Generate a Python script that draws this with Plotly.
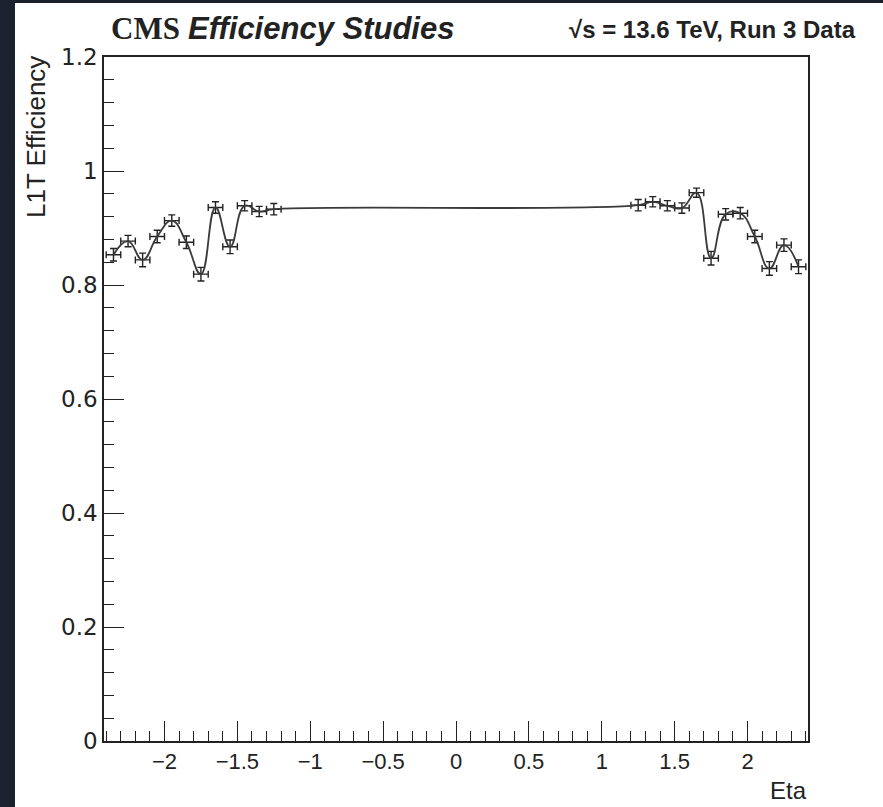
import plotly.graph_objects as go

eta = [-2.35, -2.25, -2.15, -2.05, -1.95, -1.85, -1.75, -1.65, -1.55, -1.45, -1.35, -1.25,
       1.25, 1.35, 1.45, 1.55, 1.65, 1.75, 1.85, 1.95, 2.05, 2.15, 2.25, 2.35]
eff = [0.853, 0.877, 0.844, 0.885, 0.913, 0.875, 0.819, 0.936, 0.867, 0.939, 0.929, 0.933,
       0.940, 0.946, 0.939, 0.935, 0.962, 0.847, 0.924, 0.926, 0.885, 0.829, 0.870, 0.832]
eff_err = [0.011, 0.010, 0.012, 0.011, 0.010, 0.011, 0.012, 0.010, 0.012, 0.009, 0.009, 0.010,
           0.010, 0.009, 0.009, 0.009, 0.008, 0.012, 0.010, 0.010, 0.011, 0.012, 0.011, 0.012]
eta_halfwidth = [0.05] * len(eta)

fig = go.Figure()
fig.add_trace(go.Scatter(
    x=eta, y=eff, mode="lines",
    line=dict(color="#3a3a3a", width=1.8, shape="spline", smoothing=1.3),
    error_y=dict(type="data", array=eff_err, color="#222222", thickness=1.4, width=3.5),
    error_x=dict(type="data", array=eta_halfwidth, color="#222222", thickness=1.4, width=3.5),
    showlegend=False,
))

axis_line = dict(showline=True, linecolor="#222222", linewidth=1.5, mirror=True,
                 showgrid=False, zeroline=False, ticks="inside", tickcolor="#222222",
                 tickwidth=1.2, ticklen=20)

fig.update_xaxes(range=[-2.415, 2.415], dtick=0.5, tick0=0,
                 minor=dict(dtick=0.1, ticks="inside", ticklen=10, tickcolor="#222222", tickwidth=1.2),
                 tickfont=dict(family="Liberation Sans, Arial", size=22, color="#222222"),
                 **axis_line)
fig.update_yaxes(range=[0, 1.2], dtick=0.2, tick0=0,
                 minor=dict(dtick=0.04, ticks="inside", ticklen=10, tickcolor="#222222", tickwidth=1.2),
                 tickfont=dict(family="DejaVu Sans", size=23, color="#222222"),
                 **axis_line)

# plot area: x 104..808, y 57..741 in pixels
L, R, T, B = 104, 808, 57, 741
W, H = R - L, B - T
def px(xp):
    return (xp - L) / W
def py(yp):
    return (B - yp) / H

fig.add_shape(type="rect", xref="paper", yref="paper", x0=px(15), x1=px(900),
              y0=py(830), y1=py(3), fillcolor="white", line=dict(width=0), layer="below")

ann = []
ann.append(dict(text="<b>CMS</b>", x=px(109), y=py(29), xref="paper", yref="paper",
                xanchor="left", yanchor="middle", showarrow=False,
                font=dict(family="Liberation Serif", size=31, color="#222222")))
ann.append(dict(text="<b><i>Efficiency Studies</i></b>", x=px(186), y=py(29), xref="paper", yref="paper",
                xanchor="left", yanchor="middle", showarrow=False,
                font=dict(family="Liberation Sans", size=31, color="#222222")))
ann.append(dict(text="<b>√s = 13.6 TeV, Run 3 Data</b>", x=px(858), y=py(30), xref="paper", yref="paper",
                xanchor="right", yanchor="middle", showarrow=False,
                font=dict(family="Liberation Sans", size=24, color="#222222")))
ann.append(dict(text="L1T Efficiency", x=px(36), y=py(54), xref="paper", yref="paper",
                xanchor="center", yanchor="top", textangle=-90, showarrow=False,
                font=dict(family="Liberation Sans", size=26, color="#222222")))
ann.append(dict(text="Eta", x=px(809), y=py(790), xref="paper", yref="paper",
                xanchor="right", yanchor="middle", showarrow=False,
                font=dict(family="Liberation Sans", size=24, color="#222222")))

fig.update_layout(
    width=883, height=807,
    margin=dict(l=L, r=883 - R, t=T, b=807 - B, pad=0),
    paper_bgcolor="#1b212d", plot_bgcolor="white",
    annotations=ann,
)

fig.write_html("out.html")
